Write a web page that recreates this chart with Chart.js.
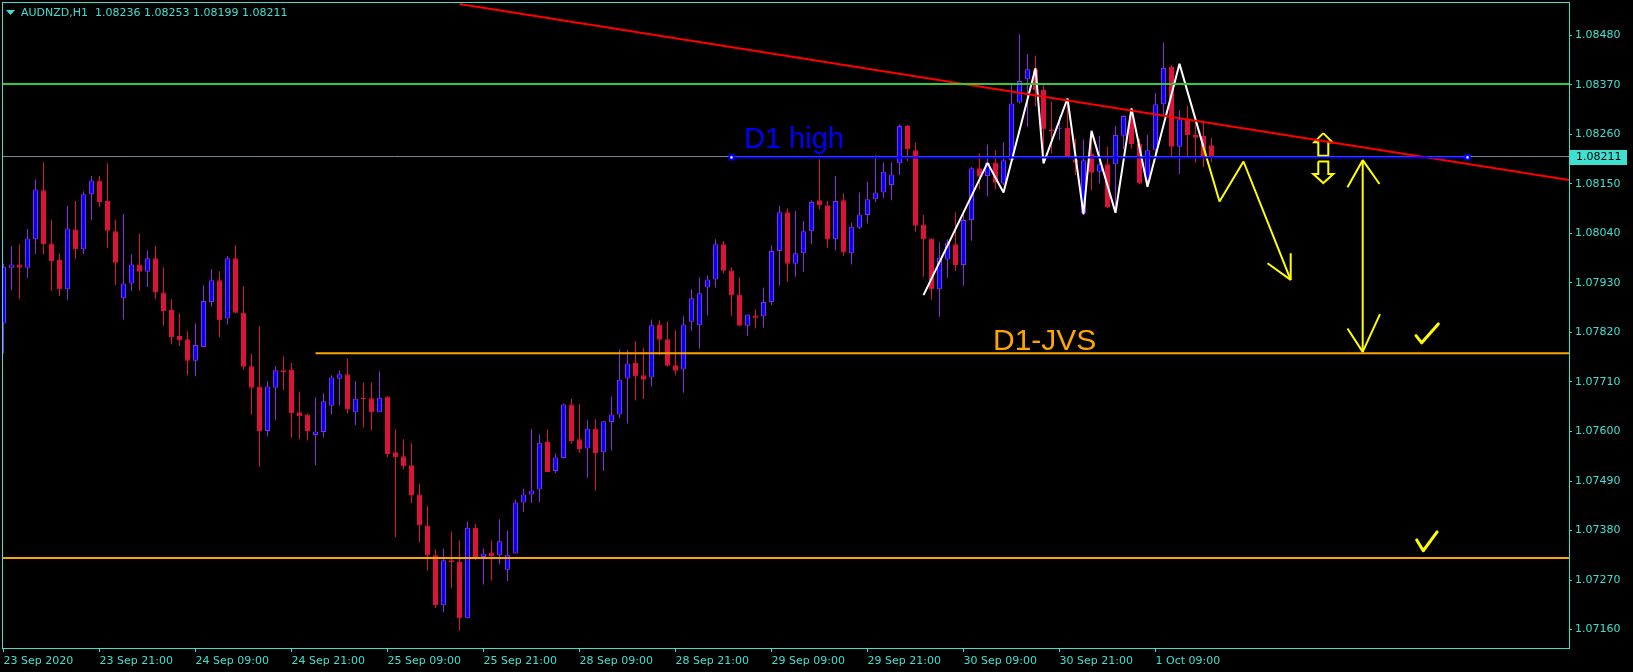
<!DOCTYPE html>
<html><head><meta charset="utf-8">
<script src="https://cdn.jsdelivr.net/npm/chart.js@4.4.0/dist/chart.umd.min.js"></script>
<style>html,body{margin:0;padding:0;background:#000;overflow:hidden}canvas{display:block}</style>
</head><body>
<canvas id="c" width="1633" height="672"></canvas>
<script>
// ---------- data ----------
const symbol = 'AUDNZD,H1';
const xTickIndex = [0,12,24,36,48,60,72,84,96,108,120,132,144];
const xTickLabels = ['23 Sep 2020','23 Sep 21:00','24 Sep 09:00','24 Sep 21:00','25 Sep 09:00','25 Sep 21:00','28 Sep 09:00','28 Sep 21:00','29 Sep 09:00','29 Sep 21:00','30 Sep 09:00','30 Sep 21:00','1 Oct 09:00'];
const yTicks = [1.07160,1.07270,1.07380,1.07490,1.07600,1.07710,1.07820,1.07930,1.08040,1.08150,1.08260,1.08370,1.08480];

const open = [
1.07840,1.07964,1.07971,1.07964,1.08027,1.08136,1.08018,1.07981,1.07916,1.08049,
1.08005,1.08127,1.08158,1.08112,1.08045,1.07896,1.07929,1.07971,1.07955,1.07985,
1.07909,1.07870,1.07812,1.07805,1.07757,1.07788,1.07888,1.07936,1.07851,1.07985,
1.07864,1.07745,1.07700,1.07601,1.07697,1.07736,1.07738,1.07643,1.07638,1.07592,
1.07599,1.07657,1.07717,1.07727,1.07643,1.07674,1.07674,1.07643,1.07678,1.07554,
1.07545,1.07525,1.07460,1.07391,1.07325,1.07214,1.07314,1.07311,1.07185,1.07386,
1.07321,1.07331,1.07325,1.07293,1.07329,1.07442,1.07460,1.07471,1.07578,1.07512,
1.07541,1.07660,1.07583,1.07562,1.07606,1.07554,1.07621,1.07638,1.07718,1.07753,
1.07725,1.07720,1.07838,1.07805,1.07747,1.07738,1.07844,1.07836,1.07920,1.07938,
1.08016,1.07958,1.07904,1.07835,1.07858,1.07856,1.07888,1.08001,1.08087,1.07973,
1.07996,1.08045,1.08114,1.08103,1.08027,1.08114,1.07996,1.08053,1.08081,1.08116,
1.08131,1.08148,1.08196,1.08279,1.08225,1.08060,1.08029,1.07916,1.07982,1.08016,
1.07970,1.08070,1.08185,1.08168,1.08198,1.08151,1.08203,1.08331,1.08383,1.08405,
1.08359,1.08271,1.08273,1.08275,1.08205,1.08085,1.08218,1.08177,1.08194,1.08194,
1.08257,1.08303,1.08240,1.08157,1.08225,1.08327,1.08411,1.08233,1.08294,1.08259,
1.08257,1.08236];
const high = [
1.07973,1.08012,1.08016,1.08050,1.08160,1.08198,1.08070,1.07996,1.08101,1.08112,
1.08134,1.08168,1.08168,1.08196,1.08070,1.08083,1.07994,1.08039,1.08003,1.08013,
1.07965,1.07894,1.07862,1.07823,1.07840,1.07925,1.07961,1.07956,1.07990,1.08014,
1.07923,1.07772,1.07834,1.07712,1.07745,1.07767,1.07752,1.07689,1.07640,1.07676,
1.07685,1.07725,1.07736,1.07763,1.07712,1.07709,1.07709,1.07734,1.07678,1.07605,
1.07583,1.07574,1.07484,1.07434,1.07338,1.07340,1.07378,1.07358,1.07400,1.07395,
1.07340,1.07358,1.07405,1.07380,1.07449,1.07473,1.07606,1.07594,1.07605,1.07551,
1.07662,1.07672,1.07661,1.07625,1.07627,1.07623,1.07678,1.07783,1.07781,1.07801,
1.07786,1.07849,1.07847,1.07845,1.07825,1.07856,1.07916,1.07942,1.07947,1.08027,
1.08023,1.07965,1.07942,1.07860,1.07871,1.07920,1.08014,1.08101,1.08096,1.08090,
1.08068,1.08114,1.08205,1.08112,1.08168,1.08129,1.08064,1.08131,1.08155,1.08214,
1.08198,1.08198,1.08283,1.08281,1.08242,1.08081,1.08029,1.08021,1.08027,1.08087,
1.08085,1.08188,1.08218,1.08238,1.08225,1.08243,1.08370,1.08483,1.08439,1.08435,
1.08370,1.08333,1.08300,1.08329,1.08251,1.08249,1.08264,1.08257,1.08233,1.08279,
1.08303,1.08318,1.08251,1.08259,1.08352,1.08464,1.08414,1.08314,1.08323,1.08286,
1.08286,1.08253];
const low = [
1.07774,1.07914,1.07894,1.07941,1.07994,1.07994,1.07912,1.07901,1.07893,1.07983,
1.07994,1.08070,1.08099,1.08008,1.07925,1.07849,1.07912,1.07912,1.07921,1.07894,
1.07835,1.07794,1.07790,1.07725,1.07723,1.07787,1.07877,1.07810,1.07838,1.07863,
1.07738,1.07638,1.07521,1.07589,1.07625,1.07692,1.07586,1.07583,1.07580,1.07525,
1.07586,1.07638,1.07658,1.07640,1.07614,1.07609,1.07603,1.07643,1.07543,1.07365,
1.07516,1.07441,1.07354,1.07291,1.07208,1.07199,1.07252,1.07158,1.07185,1.07314,
1.07260,1.07269,1.07305,1.07268,1.07329,1.07421,1.07441,1.07443,1.07510,1.07508,
1.07540,1.07573,1.07552,1.07497,1.07469,1.07512,1.07558,1.07630,1.07618,1.07669,
1.07672,1.07700,1.07770,1.07744,1.07725,1.07686,1.07824,1.07784,1.07858,1.07920,
1.07951,1.07857,1.07835,1.07812,1.07829,1.07831,1.07881,1.07925,1.07933,1.07944,
1.07955,1.08016,1.08094,1.08008,1.08003,1.07990,1.07971,1.08050,1.08062,1.08110,
1.08119,1.08114,1.08170,1.08201,1.08044,1.07944,1.07893,1.07855,1.07941,1.07956,
1.07924,1.08024,1.08138,1.08122,1.08138,1.08148,1.08198,1.08329,1.08277,1.08323,
1.08218,1.08218,1.08248,1.08211,1.08170,1.08081,1.08136,1.08151,1.08096,1.08092,
1.08227,1.08229,1.08150,1.08144,1.08211,1.08303,1.08211,1.08172,1.08211,1.08197,
1.08188,1.08199];
const close = [
1.07966,1.07971,1.07964,1.08029,1.08138,1.08016,1.07979,1.07916,1.08051,1.08005,
1.08127,1.08158,1.08110,1.08046,1.07975,1.07929,1.07971,1.07955,1.07985,1.07910,
1.07868,1.07810,1.07803,1.07757,1.07792,1.07890,1.07936,1.07847,1.07985,1.07864,
1.07744,1.07697,1.07601,1.07700,1.07736,1.07732,1.07641,1.07634,1.07601,1.07600,
1.07667,1.07720,1.07727,1.07649,1.07673,1.07672,1.07643,1.07675,1.07550,1.07543,
1.07523,1.07459,1.07391,1.07325,1.07214,1.07314,1.07310,1.07185,1.07386,1.07319,
1.07329,1.07323,1.07356,1.07326,1.07442,1.07460,1.07469,1.07575,1.07510,1.07542,
1.07660,1.07579,1.07561,1.07606,1.07552,1.07623,1.07638,1.07715,1.07751,1.07723,
1.07715,1.07836,1.07804,1.07746,1.07735,1.07838,1.07896,1.07907,1.07938,1.08016,
1.07957,1.07903,1.07835,1.07860,1.07853,1.07888,1.08001,1.08087,1.07973,1.07996,
1.08045,1.08110,1.08102,1.08027,1.08112,1.07998,1.08055,1.08082,1.08116,1.08131,
1.08177,1.08171,1.08279,1.08227,1.08057,1.08027,1.07916,1.07986,1.08020,1.07970,
1.08070,1.08185,1.08166,1.08197,1.08153,1.08203,1.08329,1.08379,1.08405,1.08359,
1.08271,1.08268,1.08275,1.08212,1.08197,1.08203,1.08175,1.08194,1.08098,1.08259,
1.08301,1.08239,1.08151,1.08225,1.08327,1.08408,1.08233,1.08294,1.08259,1.08253,
1.08211,1.08211];

// drawn objects, in (bar index, price)
const greenLevel = 1.08372;
const d1HighLevel = 1.08209;
const d1HighSpan = [91, 183];
const jvsLevel = 1.07774;
const jvsStart = 39;
const lowerLevel = 1.07319;
const trendBars = [57, 151];
const trendPrices = [1.08550, 1.08285];
const waveBars = [115,123,125,129,130,133,135,136,139,141,143,147,150];
const wavePrices = [1.07903,1.08197,1.08131,1.08407,1.08196,1.08340,1.08083,1.08268,1.08086,1.08318,1.08144,1.08417,1.08232];
const forecastBars = [150,152,155,160.9];
const forecastPrices = [1.08232,1.08111,1.08200,1.07937];
const forecastHeadBars = [158,160.9,160.9];
const forecastHeadPrices = [1.07974,1.07937,1.07996];
const targetBar = 169.9;
const targetPrices = [1.08203, 1.07777];
const targetTopHeadBars = [168,169.9,172];
const targetTopHeadPrices = [1.08143,1.08203,1.08150];
const targetBotHeadBars = [168,169.9,172.06];
const targetBotHeadPrices = [1.07829,1.07777,1.07861];
const upArrowBars = [164.975,166.1,165.6,165.6,164.35,164.35,163.85,164.975];
const upArrowPrices = [1.08263,1.08243,1.08243,1.08213,1.08213,1.08243,1.08243,1.08263];
const downArrowBars = [164.35,165.6,165.6,166.225,164.975,163.725,164.35,164.35];
const downArrowPrices = [1.08200,1.08200,1.08172,1.08172,1.08152,1.08172,1.08172,1.08200];
const check1Bars = [176.56,177.28,179.35];
const check1Prices = [1.07813,1.07797,1.07839];
const check2Bars = [176.65,177.47,179.2];
const check2Prices = [1.07359,1.07335,1.07377];
const d1HighText = 'D1 high';
const d1HighTextPos = [92.56, 1.08229];
const jvsText = 'D1-JVS';
const jvsTextPos = [123.69, 1.07780];

// axis ranges
const xMin = -0.0625, xMax = 195.6875;
const yMin = 1.0711889, yMax = 1.0855222;

// ---------- styles ----------
const AX = '#40E0D0';
const BULL = '#0000FF', BULL_LINE = '#8A2BE2', BEAR = '#DC143C';
const FONT = '"DejaVu Sans", Verdana, sans-serif';

const n = open.length;
const idx = open.map((_, i) => i);
const isBull = idx.map(i => close[i] > open[i]);

const pts = (xs, ys) => xs.map((x, k) => ({x, y: ys[k]}));
const lineDs = (data, color, width, extra) => Object.assign({
  type: 'line', data, borderColor: color, borderWidth: width, pointRadius: 0,
  fill: false, tension: 0, order: 0, borderJoinStyle: 'bevel', spanGaps: false
}, extra || {});

const trendSlope = (trendPrices[1] - trendPrices[0]) / (trendBars[1] - trendBars[0]);
const trendData = [
  {x: trendBars[0], y: trendPrices[0]},
  {x: xMax, y: trendPrices[0] + trendSlope * (xMax - trendBars[0])}
];

const datasets = [
  lineDs([{x: xMin, y: greenLevel}, {x: xMax, y: greenLevel}], '#32CD32', 2),
  lineDs([{x: xMin, y: close[n-1]}, {x: xMax, y: close[n-1]}], '#778899', 1, {order: 3}),
  lineDs([{x: jvsStart, y: jvsLevel}, {x: xMax, y: jvsLevel}], '#FFA500', 2),
  lineDs([{x: xMin, y: lowerLevel}, {x: xMax, y: lowerLevel}], '#FFA500', 2),
  lineDs([{x: d1HighSpan[0], y: d1HighLevel}, {x: d1HighSpan[1], y: d1HighLevel}], '#0000FF', 2,
    {pointRadius: 3, pointStyle: 'rect', pointBackgroundColor: '#FFFFFF', pointBorderColor: '#0000FF', pointBorderWidth: 2}),
  lineDs(trendData, '#FF0000', 2),
  lineDs(pts(waveBars, wavePrices), '#FFFFFF', 2),
  lineDs(pts(forecastBars, forecastPrices), '#FFFF00', 2),
  lineDs(pts(forecastHeadBars, forecastHeadPrices), '#FFFF00', 2),
  lineDs([{x: targetBar, y: targetPrices[0]}, {x: targetBar, y: targetPrices[1]}], '#FFFF00', 2),
  lineDs(pts(targetTopHeadBars, targetTopHeadPrices), '#FFFF00', 2),
  lineDs(pts(targetBotHeadBars, targetBotHeadPrices), '#FFFF00', 2),
  lineDs(pts(upArrowBars, upArrowPrices), '#FFFF00', 2, {borderJoinStyle: 'miter'}),
  lineDs(pts(downArrowBars, downArrowPrices), '#FFFF00', 2, {borderJoinStyle: 'miter'}),
  lineDs(pts(check1Bars, check1Prices), '#FFFF00', 3, {borderJoinStyle: 'round', borderCapStyle: 'round'}),
  lineDs(pts(check2Bars, check2Prices), '#FFFF00', 3, {borderJoinStyle: 'round', borderCapStyle: 'round'}),
  {
    type: 'bar', order: 1, grouped: false, barThickness: 5, minBarLength: 1, inflateAmount: 0,
    data: idx.map(i => ({x: i, y: [Math.min(open[i], close[i]), Math.max(open[i], close[i])]})),
    backgroundColor: idx.map(i => isBull[i] ? BULL : BEAR),
    borderColor: idx.map(i => isBull[i] ? BULL_LINE : BEAR),
    borderWidth: 1, borderSkipped: false
  },
  {
    type: 'bar', order: 2, grouped: false, barThickness: 1, minBarLength: 1, inflateAmount: 0,
    data: idx.map(i => ({x: i, y: [low[i], high[i]]})),
    backgroundColor: idx.map(i => isBull[i] ? BULL_LINE : BEAR),
    borderWidth: 0
  }
];

const fmt = v => v.toFixed(5);
const noPad = s => { s.paddingTop = 0; s.paddingBottom = 0; s.paddingLeft = 0; s.paddingRight = 0; };

const overlay = {
  id: 'overlay',
  beforeDraw(chart) {
    const c = chart.ctx;
    c.save(); c.fillStyle = '#000'; c.fillRect(0, 0, chart.width, chart.height); c.restore();
  },
  afterDatasetsDraw(chart) {
    const c = chart.ctx, xs = chart.scales.x, ys = chart.scales.y;
    c.save();
    c.textAlign = 'left'; c.textBaseline = 'alphabetic';
    c.font = '29px "Liberation Sans", Arial, sans-serif';
    c.fillStyle = '#0000FF';
    c.fillText(d1HighText, xs.getPixelForValue(d1HighTextPos[0]), ys.getPixelForValue(d1HighTextPos[1]));
    c.font = '30px "Liberation Sans", Arial, sans-serif';
    c.fillStyle = '#FFA500';
    c.fillText(jvsText, xs.getPixelForValue(jvsTextPos[0]), ys.getPixelForValue(jvsTextPos[1]));
    c.restore();
  },
  afterDraw(chart) {
    const c = chart.ctx, a = chart.chartArea, ys = chart.scales.y;
    c.save();
    c.strokeStyle = AX; c.lineWidth = 1;
    c.strokeRect(a.left - 0.5, a.top - 0.5, a.right - a.left + 1, a.bottom - a.top + 1);
    // title
    c.fillStyle = AX;
    c.beginPath(); c.moveTo(6, 10); c.lineTo(15, 10); c.lineTo(10.5, 15); c.closePath(); c.fill();
    c.font = '11px ' + FONT; c.textBaseline = 'middle'; c.textAlign = 'left';
    c.fillText(symbol + '  ' + [open[n-1], high[n-1], low[n-1], close[n-1]].map(fmt).join(' '), 21, 13);
    // current price label
    const py = ys.getPixelForValue(close[n-1]);
    c.fillStyle = AX;
    c.fillRect(a.right + 1, Math.round(py) - 7, 57, 15);
    c.fillStyle = '#000';
    c.fillText(fmt(close[n-1]), a.right + 7, Math.round(py) + 0.5);
    c.restore();
  }
};

new Chart(document.getElementById('c'), {
  type: 'bar',
  data: {datasets},
  plugins: [overlay],
  options: {
    responsive: false, animation: false, devicePixelRatio: 1,
    layout: {padding: {left: 3, top: 3, right: 0, bottom: 0}, autoPadding: false},
    plugins: {legend: {display: false}, tooltip: {enabled: false}, title: {display: false}},
    scales: {
      x: {
        type: 'linear', min: xMin, max: xMax, offset: false,
        grid: {drawOnChartArea: false, color: AX, tickLength: 4, offset: false},
        border: {display: false},
        ticks: {color: AX, font: {family: FONT, size: 11}, align: 'start', maxRotation: 0, autoSkip: false, padding: 3,
          callback: v => { const k = xTickIndex.indexOf(v); return k >= 0 ? xTickLabels[k] : ''; }},
        afterBuildTicks: s => { s.ticks = xTickIndex.map(v => ({value: v})); },
        afterFit: s => { s.height = 24; noPad(s); }
      },
      y: {
        type: 'linear', position: 'right', min: yMin, max: yMax,
        grid: {drawOnChartArea: false, color: AX, tickLength: 3},
        border: {display: false},
        ticks: {color: AX, font: {family: FONT, size: 11}, padding: 3, callback: v => fmt(v)},
        afterBuildTicks: s => { s.ticks = yTicks.map(v => ({value: v})); },
        afterFit: s => { s.width = 64; noPad(s); }
      }
    }
  }
});
</script>
</body></html>
